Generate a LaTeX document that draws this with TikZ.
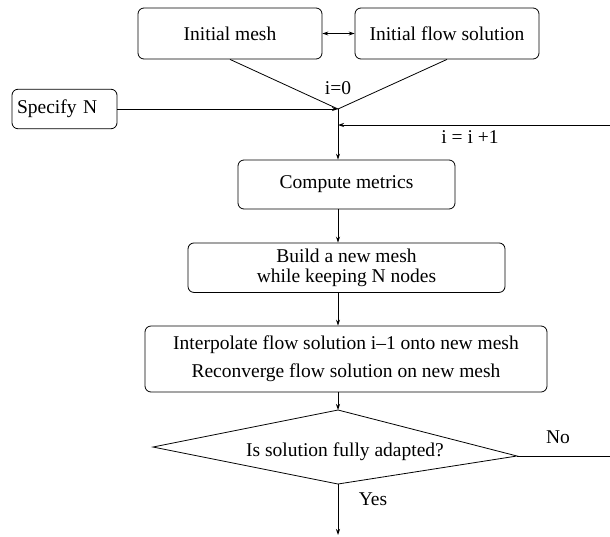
\documentclass[tikz,border=0pt]{standalone}
\usepackage{fontspec}
\setmainfont{Liberation Serif}
\usetikzlibrary{arrows.meta}

\begin{document}
\begin{tikzpicture}[
            x = 1pt, y = -1pt,
            every node/.style={font=\fontsize{19.5}{23}\selectfont, inner sep=0pt},
            box/.style={draw, rounded corners=6pt, line width=.8pt},
            line/.style={line width = .8pt},
            tip/.style={-{Stealth[length=6pt, width=4pt]}},
            ]
        \useasboundingbox (0,0) rectangle (610,536);

        \node[box, minimum width=184pt, minimum height=51pt] (mesh) at (230,33.5) {Initial mesh};
        \node[box, minimum width=184pt, minimum height=51pt] (flow) at (447,33.5) {Initial flow solution};
        \node[box, minimum height=39.5pt, text width=95pt, align=left, inner xsep=5pt] (spec) at (64.5,109) {Specify N};
        \node[box, minimum width=217pt, minimum height=49pt] (comp) at (346.5,184.5) {Compute metrics};
        \node[box, minimum width=317pt, minimum height=49.5pt, align=center,
              font=\fontsize{19.5}{19.5}\selectfont] (build) at (346.5,267.7) {Build a new mesh\\while keeping N nodes};
        \node[box, minimum width=402pt, minimum height=66pt, align=center] (interp) at (346,359)
              {Interpolate flow solution i–1 onto new mesh\\[5pt]Reconverge flow solution on new mesh};

        \coordinate (v) at (338,109);
        \coordinate (j) at (338,125);
        \coordinate (back) at (610,125);
        \coordinate (dl) at (153,447);
        \coordinate (dt) at (338,410);
        \coordinate (dr) at (517,456);
        \coordinate (db) at (338,484);
        \coordinate (no) at (610,456);
        \coordinate (out) at (338,535);
        \node (adapt) at (345,452) {Is solution fully adapted?};

        \node (i0) at (338,88) {i=0};
        \node (inc) at (470,137) {i = i +1};
        \node (nolab) at (558,437) {No};
        \node (yes) at (373,499) {Yes};

        \draw[line] (dl) -- (dt) -- (dr) -- (db) -- cycle;
        \draw[line, {Stealth[length=6pt, width=4pt]}-{Stealth[length=6pt, width=4pt]}] (mesh) -- (flow);
        \draw[line] (mesh.south) -- (v) -- (flow.south);
        \draw[line, tip] (spec.east |- v) -- (v);
        \draw[line, tip] (back) -- (j);
        \draw[line, tip] (v) -- (v |- comp.north);
        \draw[line, tip] (comp.south -| v) -- (build.north -| v);
        \draw[line, tip] (build.south -| v) -- (interp.north -| v);
        \draw[line, tip] (interp.south -| v) -- (dt);
        \draw[line] (dr) -- (no);
        \draw[line, tip] (db) -- (out);
    \end{tikzpicture}
\end{document}
